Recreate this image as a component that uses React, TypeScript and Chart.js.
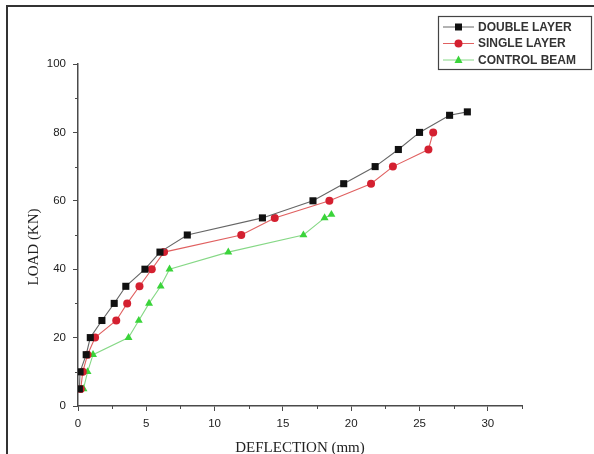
import { useEffect, useRef } from "react";
import { Chart, registerables } from "chart.js";

Chart.register(...registerables);

// ---- Data ----
const doubleDeflection = [0.1, 0.15, 0.6, 0.9, 1.75, 2.65, 3.5, 4.9, 6.0, 8.0, 13.5, 17.2, 19.45, 21.75, 23.45, 25.0, 27.2, 28.5];
const doubleLoad = [5, 10, 15, 20, 25, 30, 35, 40, 45, 50, 55, 60, 65, 70, 75, 80, 85, 86];

const singleDeflection = [0.2, 0.35, 0.7, 1.25, 2.8, 3.6, 4.5, 5.4, 6.3, 11.95, 14.4, 18.4, 21.45, 23.05, 25.65, 26.0];
const singleLoad = [5, 10, 15, 20, 25, 30, 35, 40, 45, 50, 55, 60, 65, 70, 75, 80];

const controlDeflection = [0.4, 0.7, 1.1, 3.7, 4.45, 5.2, 6.05, 6.7, 11.0, 16.5, 18.05, 18.55];
const controlLoad = [5, 10, 15, 20, 25, 30, 35, 40, 45, 50, 55, 56];

const seriesLabels = ["DOUBLE LAYER", "SINGLE LAYER", "CONTROL BEAM"];
const xTitle = "DEFLECTION (mm)";
const yTitle = "LOAD (KN)";
const xMin = 0;
const xMax = 32.5;
const xMajorStep = 5;
const xMinorStep = 2.5;
const yMin = 0;
const yMax = 100;
const yMajorStep = 20;
const yMinorStep = 10;

const toPoints = (xs: number[], ys: number[]) => xs.map((x, i) => ({ x, y: ys[i] }));

const AXIS_COLOR = "#4a4a4a";
const TICK_FONT = { family: "Liberation Sans, Arial, sans-serif", size: 11.5 };

const extrasPlugin = {
  id: "extras",
  afterDraw(chart: any) {
    const ctx = chart.ctx as CanvasRenderingContext2D;
    const area = chart.chartArea;
    const xs = chart.scales.x;
    const ys = chart.scales.y;
    ctx.save();
    // minor ticks
    ctx.strokeStyle = AXIS_COLOR;
    ctx.lineWidth = 1;
    for (let v = xMin; v <= xMax + 1e-9; v += xMinorStep) {
      if (Math.abs(v / xMajorStep - Math.round(v / xMajorStep)) < 1e-9) continue;
      const px = Math.round(xs.getPixelForValue(v)) + 0.5;
      ctx.beginPath();
      ctx.moveTo(px, area.bottom);
      ctx.lineTo(px, area.bottom + 3);
      ctx.stroke();
    }
    for (let v = yMin; v <= yMax + 1e-9; v += yMinorStep) {
      if (Math.abs(v / yMajorStep - Math.round(v / yMajorStep)) < 1e-9) continue;
      const py = Math.round(ys.getPixelForValue(v)) + 0.5;
      ctx.beginPath();
      ctx.moveTo(area.left - 3, py);
      ctx.lineTo(area.left, py);
      ctx.stroke();
    }
    // axis titles
    ctx.fillStyle = "#222";
    ctx.font = "15px 'Liberation Serif', 'Times New Roman', serif";
    ctx.textAlign = "center";
    ctx.textBaseline = "middle";
    ctx.fillText(xTitle, (area.left + area.right) / 2, area.bottom + 42);
    ctx.save();
    ctx.translate(area.left - 44, (area.top + area.bottom) / 2 + 12);
    ctx.rotate(-Math.PI / 2);
    ctx.fillText(yTitle, 0, 0);
    ctx.restore();

    // legend
    const lx = 438.5, ly = 16.5, lw = 153, lh = 53;
    ctx.strokeStyle = "#444";
    ctx.lineWidth = 1.2;
    ctx.strokeRect(lx, ly, lw, lh);
    ctx.font = "bold 12px 'Liberation Sans', Arial, sans-serif";
    ctx.textAlign = "left";
    ctx.textBaseline = "middle";
    chart.data.datasets.forEach((ds: any, i: number) => {
      const cy = 27 + i * 16.5;
      ctx.strokeStyle = ds.borderColor;
      ctx.lineWidth = 1;
      ctx.beginPath();
      ctx.moveTo(443, cy);
      ctx.lineTo(474, cy);
      ctx.stroke();
      ctx.fillStyle = ds.pointBackgroundColor;
      const mx = 458.5;
      ctx.beginPath();
      if (ds.pointStyle === "rect") {
        ctx.rect(mx - 3.5, cy - 3.5, 7, 7);
      } else if (ds.pointStyle === "triangle") {
        ctx.moveTo(mx, cy - 4.5);
        ctx.lineTo(mx + 4, cy + 3);
        ctx.lineTo(mx - 4, cy + 3);
        ctx.closePath();
      } else {
        ctx.arc(mx, cy, 4, 0, Math.PI * 2);
      }
      ctx.fill();
      ctx.fillStyle = "#333";
      ctx.fillText(ds.label, 478, cy + 0.5);
    });
    ctx.restore();
  },
};

export default function App() {
  const canvasRef = useRef<HTMLCanvasElement | null>(null);

  useEffect(() => {
    if (!canvasRef.current) return;
    const chart = new Chart(canvasRef.current, {
      type: "line",
      data: {
        datasets: [
          {
            label: seriesLabels[0],
            data: toPoints(doubleDeflection, doubleLoad),
            borderColor: "#666666",
            borderWidth: 1.1,
            pointStyle: "rect",
            pointRadius: 5,
            pointBackgroundColor: "#111111",
            pointBorderWidth: 0,
          },
          {
            label: seriesLabels[1],
            data: toPoints(singleDeflection, singleLoad),
            borderColor: "#e06060",
            borderWidth: 1.1,
            pointStyle: "circle",
            pointRadius: 4,
            pointBackgroundColor: "#d42030",
            pointBorderWidth: 0,
          },
          {
            label: seriesLabels[2],
            data: toPoints(controlDeflection, controlLoad),
            borderColor: "#86d886",
            borderWidth: 1.1,
            pointStyle: "triangle",
            pointRadius: 4.6,
            pointBackgroundColor: "#3ad43a",
            pointBorderWidth: 0,
          },
        ] as any,
      },
      options: {
        responsive: false,
        animation: false,
        devicePixelRatio: 1,
        layout: { padding: { left: 0, top: 64, right: 72, bottom: 0 } },
        plugins: { legend: { display: false }, tooltip: { enabled: false } },
        elements: { line: { tension: 0 } },
        scales: {
          x: {
            type: "linear",
            min: xMin,
            max: xMax,
            afterFit: (s: any) => { s.height = 48; },
            grid: { display: true, drawOnChartArea: false, drawTicks: true, tickLength: 5, color: AXIS_COLOR, lineWidth: 1 },
            border: { display: true, color: AXIS_COLOR, width: 1.5 },
            ticks: { stepSize: xMajorStep, includeBounds: false, color: "#222", font: TICK_FONT, padding: 6, maxRotation: 0 },
          },
          y: {
            type: "linear",
            min: yMin,
            max: yMax,
            afterFit: (s: any) => { s.width = 78; },
            grid: { display: true, drawOnChartArea: false, drawTicks: true, tickLength: 5, color: AXIS_COLOR, lineWidth: 1 },
            border: { display: true, color: AXIS_COLOR, width: 1.5 },
            ticks: { stepSize: yMajorStep, color: "#222", font: TICK_FONT, padding: 7 },
          },
        },
      } as any,
      plugins: [extrasPlugin],
    });
    return () => chart.destroy();
  }, []);

  return (
    <div style={{ position: "fixed", left: 0, top: 0, width: 594, height: 454, background: "#fff", overflow: "hidden" }}>
      <canvas ref={canvasRef} width={594} height={454} style={{ position: "absolute", left: 0, top: 0 }} />
      <div
        style={{
          position: "absolute",
          left: 6,
          top: 5,
          width: 600,
          height: 460,
          borderTop: "2px solid #333",
          borderLeft: "2px solid #333",
          pointerEvents: "none",
        }}
      />
    </div>
  );
}
